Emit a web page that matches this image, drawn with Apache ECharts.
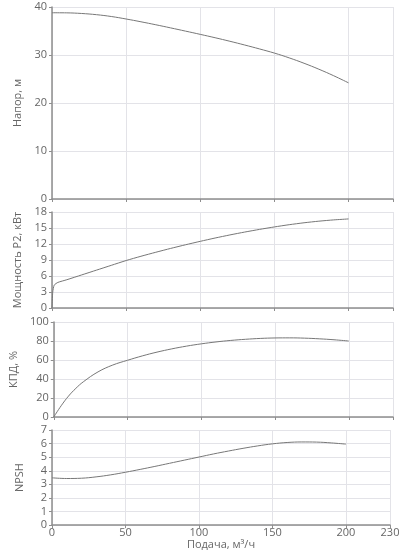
<!DOCTYPE html>
<html>
<head>
<meta charset="utf-8">
<script src="https://cdn.jsdelivr.net/npm/echarts@6/dist/echarts.min.js"></script>
<style>
  html, body { margin: 0; padding: 0; background: #fff; }
  #chart { width: 403px; height: 551px; }
</style>
</head>
<body>
<div id="chart"></div>
<script>
  // подача, м3/ч
  const flow = [0, 10, 20, 30, 40, 50, 60, 70, 80, 90, 100, 110, 120, 130, 140, 150, 160, 170, 180, 190, 200];
  const head = [38.8, 38.78, 38.65, 38.4, 38.02, 37.5, 36.92, 36.3, 35.65, 34.98, 34.3, 33.6, 32.86, 32.08, 31.26, 30.4, 29.4, 28.28, 27.04, 25.68, 24.2];
  const npsh = [3.48, 3.43, 3.45, 3.55, 3.7, 3.89, 4.1, 4.32, 4.55, 4.78, 5.01, 5.24, 5.45, 5.65, 5.83, 5.98, 6.08, 6.12, 6.11, 6.05, 5.96];
  // КПД: чаще точки в начале
  const effFlow = [0, 5, 10, 15, 20, 30, 40, 50, 60, 70, 80, 90, 100, 110, 120, 130, 140, 150, 160, 170, 180, 190, 200];
  const eff = [0, 11.8, 22, 30.2, 37, 47.5, 54.7, 59.7, 64.3, 68.3, 71.7, 74.6, 77, 79, 80.6, 81.8, 82.7, 83.2, 83.3, 83, 82.3, 81.3, 80];
  // мощность: крутой подъём у нуля
  const powerFlow = [0, 0.5, 1.5, 4, 10, 20, 30, 40, 50, 60, 70, 80, 90, 100, 110, 120, 130, 140, 150, 160, 170, 180, 190, 200];
  const power = [0, 3.0, 4.3, 4.8, 5.3, 6.2, 7.1, 8.0, 8.9, 9.7, 10.45, 11.17, 11.85, 12.5, 13.12, 13.7, 14.24, 14.74, 15.2, 15.62, 15.98, 16.28, 16.52, 16.7];

  const xTicks = [0, 50, 100, 150, 200, 230];
  const yNames = ['Напор, м', 'Мощность P2, кВт', 'КПД, %', 'NPSH'];
  const yMax = [40, 18, 100, 7];
  const yStep = [10, 3, 20, 1];

  const font = '"Open Sans", "DejaVu Sans", sans-serif';
  const axisColor = '#8e8e8e';
  const gridColor = '#e3e3e8';
  const textColor = '#666';

  const chart = echarts.init(document.getElementById('chart'));

  const grids = [
    {left: 52, right: 10, top: 7, height: 192},
    {left: 52, right: 10, top: 212, height: 96},
    {left: 52, right: 10, top: 322, height: 95},
    {left: 52, right: 13, top: 430, height: 96}
  ];

  const xAxes = grids.map((g, i) => ({
    type: 'value',
    gridIndex: i,
    min: xTicks[0],
    max: xTicks[xTicks.length - 1],
    interval: 50,
    name: i === 3 ? 'Подача, м³/ч' : '',
    nameLocation: 'middle',
    nameGap: 10,
    nameTextStyle: {color: textColor, fontFamily: font, fontSize: 11},
    axisLine: {show: true, lineStyle: {color: axisColor, width: 1.5}},
    axisTick: {show: true, length: 3, lineStyle: {color: axisColor}},
    axisLabel: {show: i === 3, color: textColor, fontFamily: font, fontSize: 11, margin: 2},
    splitLine: {show: true, lineStyle: {color: gridColor}}
  }));

  const yAxes = grids.map((g, i) => ({
    type: 'value',
    gridIndex: i,
    min: 0,
    max: yMax[i],
    interval: yStep[i],
    name: yNames[i],
    nameLocation: 'middle',
    nameGap: 27,
    nameTextStyle: {color: textColor, fontFamily: font, fontSize: 11},
    axisLine: {show: true, lineStyle: {color: axisColor, width: 1.5}},
    axisTick: {show: true, length: 3, lineStyle: {color: axisColor}},
    axisLabel: {color: textColor, fontFamily: font, fontSize: 11, margin: 5},
    splitLine: {show: true, lineStyle: {color: gridColor}}
  }));

  const seriesList = [
    [flow, head],
    [powerFlow, power],
    [effFlow, eff],
    [flow, npsh]
  ];

  const option = {
    animation: false,
    grid: grids,
    xAxis: xAxes,
    yAxis: yAxes,
    series: seriesList.map(([xs, vals], i) => ({
      type: 'line',
      xAxisIndex: i,
      yAxisIndex: i,
      smooth: i === 1 ? 0.2 : 0.4,
      symbol: 'none',
      lineStyle: {color: '#777', width: 1},
      data: xs.map((q, k) => [q, vals[k]])
    }))
  };

  chart.setOption(option);
</script>
</body>
</html>
